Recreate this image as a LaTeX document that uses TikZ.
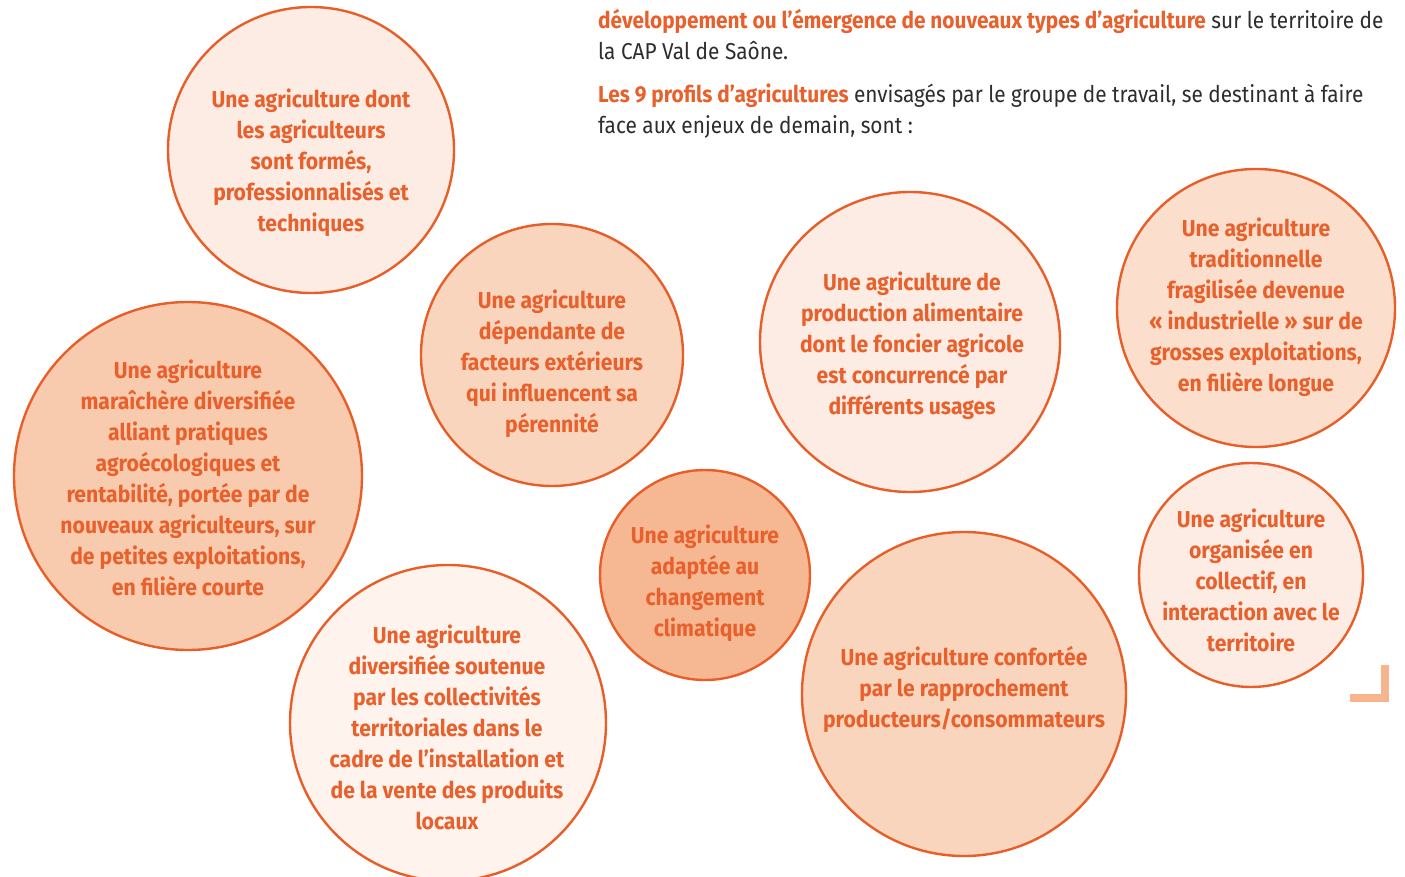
\documentclass[tikz,border=0pt]{standalone}
\usepackage{fontspec}
\setmainfont{Fira Sans}[FakeStretch=0.92]
\newfontfamily\bodyfont{Fira Sans}[FakeStretch=0.905]
\definecolor{oline}{RGB}{232,94,40}
\definecolor{otext}{RGB}{232,96,44}
\definecolor{bodygray}{RGB}{45,45,45}
\definecolor{fillA}{RGB}{253,236,227}
\definecolor{fillB}{RGB}{249,213,190}
\definecolor{fillC}{RGB}{251,222,204}
\definecolor{fillD}{RGB}{248,202,174}
\definecolor{fillE}{RGB}{245,184,146}
\definecolor{fillF}{RGB}{254,243,237}
\definecolor{cornercol}{RGB}{246,181,140}
\tikzset{
  bubble/.style={circle, draw=oline, line width=2.4pt, inner sep=0pt},
  ctext/.style={align=center, text=otext, font=\fontsize{23}{31}\selectfont\bfseries, inner sep=0pt},
  bodyline/.style={anchor=base west, inner sep=0pt, text=bodygray, font=\bodyfont\fontsize{23}{31}\selectfont},
}
\newcommand{\hl}[1]{{\bfseries\color{otext}#1}}
\begin{document}
\begin{tikzpicture}[x=1pt,y=-1pt]
\clip (0,0) rectangle (1405,877);
\fill[white] (0,0) rectangle (1405,877);
% top text
\node[bodyline] (t1) at (598,29) {\hl{développement ou l’émergence de nouveaux types d’agriculture} sur le territoire de};
\node[bodyline] (t2) at (598,60) {la CAP Val de Saône.};
\node[bodyline] (t3) at (598,103) {\hl{Les 9 profils d’agricultures} envisagés par le groupe de travail, se destinant à faire};
\node[bodyline] (t4) at (598,134) {face aux enjeux de demain, sont :};
% bubbles
\node[bubble, fill=fillA, minimum size=286pt] (c1) at (311,150) {};
\node[ctext] (c1t) at (311,163) {Une agriculture dont\\les agriculteurs\\sont formés,\\professionnalisés et\\techniques};
\node[bubble, fill=fillB, minimum size=262pt] (c2) at (552,355) {};
\node[ctext] (c2t) at (552,364) {Une agriculture\\dépendante de\\facteurs extérieurs\\qui influencent sa\\pérennité};
\node[bubble, fill=fillA, minimum size=300pt] (c3) at (910,342) {};
\node[ctext] (c3t) at (912,346) {Une agriculture de\\production alimentaire\\dont le foncier agricole\\est concurrencé par\\différents usages};
\node[bubble, fill=fillC, minimum size=278pt] (c4) at (1256,308) {};
\node[ctext] (c4t) at (1256,307) {Une agriculture\\traditionnelle\\fragilisée devenue\\«~industrielle~» sur de\\grosses exploitations,\\en filière longue};
\node[bubble, fill=fillD, minimum size=348pt] (c5) at (188,476) {};
\node[ctext] (c5t) at (188,478) {Une agriculture\\maraîchère diversifiée\\alliant pratiques\\agroécologiques et\\rentabilité, portée par de\\nouveaux agriculteurs, sur\\de petites exploitations,\\en filière courte};
\node[bubble, fill=fillE, minimum size=210pt] (c6) at (705,575) {};
\node[ctext] (c6t) at (705,583) {Une agriculture\\adaptée au\\changement\\climatique};
\node[bubble, fill=fillB, minimum size=324pt] (c7) at (964,694) {};
\node[ctext] (c7t) at (964,689) {Une agriculture confortée\\par le rapprochement\\producteurs/consommateurs};
\node[bubble, fill=fillA, minimum size=224pt] (c8) at (1251,575) {};
\node[ctext] (c8t) at (1251,580) {Une agriculture\\organisée en\\collectif, en\\interaction avec le\\territoire};
\node[bubble, fill=fillF, minimum size=316pt] (c9) at (448,723) {};
\node[ctext] (c9t) at (447,727) {Une agriculture\\diversifiée soutenue\\par les collectivités\\territoriales dans le\\cadre de l’installation et\\de la vente des produits\\locaux};
% corner mark
\fill[cornercol] (1380.5,665) rectangle (1388.5,702);
\fill[cornercol] (1350,694) rectangle (1388.5,702);
\end{tikzpicture}
\end{document}
